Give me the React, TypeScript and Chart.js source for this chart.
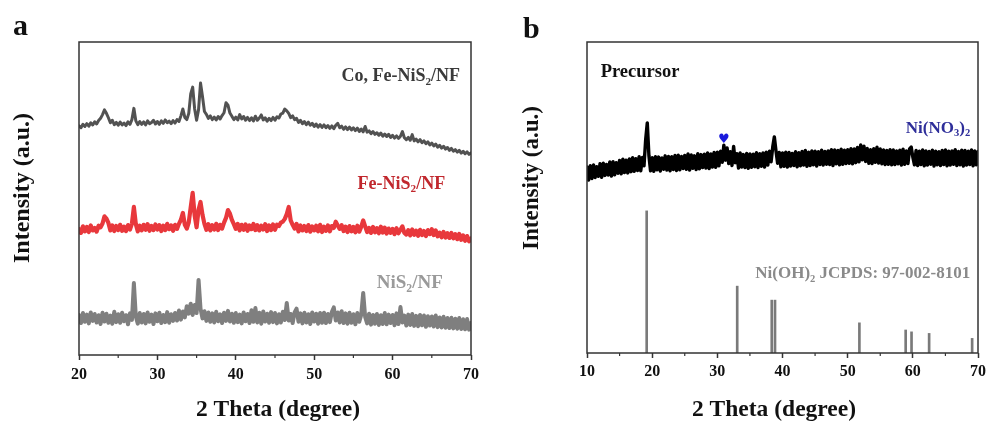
import React, { useEffect, useRef } from 'react';
import { Chart, registerables } from 'chart.js';

Chart.register(...registerables);

// ---------- DATA ----------
const STEP = 0.25;
const A_START = 20;
const B_START = 10;

// Panel a, Co, Fe-NiS2/NF (20°–70°, every 0.25°)
const coFeNiS2 = [
  73.2, 72.6, 73.7, 73.0,
  73.9, 73.1, 74.2, 73.5,
  74.5, 73.8, 74.9, 75.6,
  76.8, 78.3, 77.2, 75.8,
  74.2, 75.0, 73.6, 74.3,
  73.4, 74.4, 73.5, 74.1,
  73.3, 74.5, 73.7, 75.2,
  78.8, 74.8, 73.6, 74.6,
  73.7, 74.5, 73.5, 74.8,
  73.9, 74.3, 75.0, 73.8,
  74.6, 73.7, 74.8, 74.0,
  75.1, 74.2, 74.7, 73.9,
  74.9, 74.1, 75.2, 74.6,
  76.4, 78.6, 75.9, 75.2,
  77.2, 83.4, 85.6, 78.6,
  75.0, 78.4, 86.9, 82.6,
  77.8, 76.9, 75.6, 76.4,
  75.2, 76.0, 75.1, 76.2,
  75.4, 76.5, 77.4, 80.6,
  79.8, 77.3, 76.3, 75.2,
  76.0, 75.1, 76.8, 75.4,
  76.2, 75.0, 75.9, 74.9,
  75.8, 74.8, 76.3, 75.0,
  75.7, 76.7, 75.1, 75.8,
  74.7, 75.6, 74.9, 75.9,
  75.0, 76.1, 75.7, 77.0,
  77.3, 78.6, 78.0, 77.2,
  75.8, 76.4, 75.2, 75.6,
  74.3, 75.0, 73.9, 74.6,
  73.6, 74.4, 73.4, 74.0,
  73.0, 73.8, 72.8, 73.6,
  72.7, 73.5, 72.6, 73.3,
  72.4, 73.2, 72.3, 73.4,
  74.0, 72.6, 73.1, 72.1,
  72.9, 72.0, 72.8, 71.9,
  72.6, 71.7, 72.5, 71.4,
  72.2, 71.3, 73.0, 71.2,
  71.6, 70.7, 71.4, 70.5,
  71.0, 70.2, 70.9, 69.9,
  70.6, 69.8, 70.5, 69.5,
  70.2, 69.3, 70.0, 69.2,
  69.9, 71.4, 69.4, 68.8,
  69.5, 68.6, 70.4, 68.4,
  69.0, 68.1, 68.8, 67.8,
  68.4, 67.5, 68.1, 67.1,
  67.7, 66.8, 67.4, 66.4,
  67.0, 66.1, 66.7, 65.8,
  66.3, 65.4, 66.0, 65.1,
  65.6, 64.8, 65.4, 64.5,
  65.1, 64.3, 64.9, 64.1,
  64.6,
];

// Panel a, Fe-NiS2/NF
const feNiS2 = [
  40.2, 39.0, 41.1, 39.5,
  40.9, 39.3, 41.4, 39.8,
  40.6, 39.4, 41.3, 40.8,
  42.0, 44.3, 43.6, 42.2,
  39.8, 41.4, 39.6, 41.2,
  39.9, 41.6, 39.7, 41.0,
  39.6, 41.5, 40.1, 42.0,
  47.3, 41.8, 39.5, 41.3,
  39.8, 41.6, 40.0, 41.8,
  39.7, 41.2, 39.9, 41.7,
  40.1, 41.5, 39.6, 41.3,
  39.9, 41.9, 40.2, 41.4,
  39.7, 41.6, 40.3, 41.9,
  43.2, 45.4, 41.6, 40.4,
  42.4, 47.2, 51.8, 44.6,
  40.8, 46.4, 48.9, 44.8,
  41.9, 40.0, 41.8, 39.8,
  41.5, 40.1, 41.9, 39.9,
  41.6, 40.4, 42.3, 43.8,
  46.3, 45.2, 43.2, 41.8,
  40.3, 41.9, 39.8, 41.6,
  40.0, 41.7, 39.7, 41.4,
  40.2, 41.9, 39.9, 41.5,
  39.8, 41.3, 40.1, 41.8,
  39.6, 41.4, 39.9, 41.7,
  40.0, 41.6, 41.2, 42.3,
  42.6, 43.5, 45.0, 47.3,
  43.0, 41.6, 40.4, 41.9,
  39.5, 41.4, 39.8, 41.2,
  39.6, 41.5, 39.4, 41.1,
  39.8, 41.3, 39.5, 41.6,
  39.3, 41.0, 39.7, 41.4,
  39.5, 41.2, 40.6, 42.6,
  41.4, 40.3, 41.5, 39.6,
  41.0, 39.3, 41.2, 39.5,
  40.9, 39.2, 41.3, 39.4,
  41.0, 43.0, 41.1, 39.3,
  40.6, 39.0, 40.9, 39.2,
  40.5, 38.9, 41.0, 39.1,
  40.7, 38.8, 40.4, 39.0,
  40.3, 38.6, 40.5, 38.9,
  40.0, 41.1, 39.0, 38.5,
  39.9, 38.2, 40.1, 38.4,
  39.7, 38.1, 40.0, 38.3,
  39.6, 38.0, 39.9, 38.6,
  40.2, 38.3, 39.8, 37.9,
  39.1, 37.6, 39.3, 37.5,
  38.9, 37.4, 39.0, 37.3,
  38.6, 37.0, 38.7, 36.8,
  38.2, 36.5, 38.0, 36.3,
  37.2,
];

// Panel a, NiS2/NF
const niS2 = [
  12.8, 10.2, 13.4, 10.6,
  12.9, 10.1, 13.6, 10.9,
  13.1, 10.4, 12.7, 9.9,
  13.5, 10.7, 13.2, 10.3,
  12.6, 10.0, 13.8, 10.5,
  13.0, 10.3, 13.5, 10.8,
  12.7, 9.8, 13.3, 11.2,
  23.0, 12.2, 10.0, 13.4,
  10.4, 13.1, 10.1, 13.6,
  10.6, 12.9, 9.9, 13.3,
  10.8, 13.5, 10.2, 12.8,
  10.5, 13.7, 10.3, 13.0,
  10.9, 13.4, 11.0, 14.2,
  11.3, 13.9, 12.0, 15.6,
  13.2, 16.4, 12.8, 16.0,
  13.4, 24.0, 14.8, 11.7,
  14.0, 10.9, 13.6, 10.6,
  13.3, 10.4, 13.8, 10.8,
  13.0, 10.2, 13.5, 10.9,
  14.1, 10.7, 13.2, 10.3,
  13.4, 10.5, 12.9, 10.1,
  13.6, 10.8, 13.1, 10.2,
  14.3, 10.6, 15.0, 10.4,
  13.5, 10.0, 13.9, 10.7,
  13.2, 10.3, 13.7, 10.5,
  13.4, 10.1, 13.0, 10.4,
  13.8, 11.2, 16.6, 11.0,
  13.1, 10.2, 13.6, 14.8,
  10.6, 13.3, 10.1, 13.5,
  10.4, 13.0, 9.9, 13.6,
  10.7, 13.2, 10.0, 13.4,
  10.3, 13.5, 10.2, 13.1,
  10.5, 13.7, 15.2, 11.0,
  13.6, 10.4, 14.0, 10.2,
  13.3, 10.0, 13.5, 10.3,
  13.0, 9.8, 13.4, 10.6,
  12.9, 19.8, 12.2, 10.1,
  13.2, 9.7, 12.8, 10.0,
  13.1, 9.6, 12.7, 9.9,
  13.4, 9.8, 12.9, 10.2,
  12.8, 9.5, 13.3, 9.9,
  15.3, 10.4, 12.6, 9.4,
  12.9, 9.6, 13.1, 9.3,
  12.5, 9.2, 12.8, 9.5,
  12.6, 9.0, 12.4, 9.4,
  12.3, 9.1, 12.6, 8.9,
  12.0, 8.8, 12.2, 8.7,
  11.8, 8.6, 11.9, 8.5,
  11.6, 8.4, 11.8, 8.3,
  11.4, 8.2, 11.5, 8.1,
  10.2,
];

// Panel b, precursor (10°–70°, every 0.25°)
const precursor = [
  59.8, 55.6, 60.2, 56.1,
  60.5, 56.4, 59.9, 56.8,
  60.9, 56.5, 61.0, 57.1,
  60.6, 57.2, 61.4, 56.9,
  61.5, 57.3, 61.2, 57.8,
  61.9, 57.6, 62.3, 58.0,
  62.0, 57.9, 62.4, 58.3,
  62.8, 58.4, 62.5, 58.7,
  63.1, 58.6, 62.9, 60.2,
  68.5, 74.0, 63.5, 58.6,
  62.8, 58.4, 63.1, 58.9,
  63.0, 58.5, 62.7, 59.1,
  63.4, 58.8, 63.2, 58.6,
  63.1, 59.0, 63.5, 58.7,
  63.6, 58.9, 63.2, 59.3,
  63.5, 59.1, 64.0, 58.8,
  63.7, 59.4, 63.4, 59.0,
  64.1, 59.2, 63.8, 59.6,
  63.9, 59.5, 64.3, 59.3,
  64.0, 59.8, 64.5, 59.7,
  64.6, 60.2, 64.9, 61.3,
  66.8, 62.0, 65.9, 60.9,
  64.7, 60.3, 66.4, 61.2,
  64.1, 59.5, 64.3, 59.8,
  63.8, 59.6, 64.2, 59.4,
  64.0, 59.7, 63.9, 59.9,
  64.4, 59.6, 64.1, 60.0,
  64.3, 59.8, 64.6, 60.4,
  64.9, 61.5, 66.2, 69.5,
  65.0, 61.0, 64.5, 59.9,
  64.3, 60.0, 64.6, 59.8,
  64.5, 60.1, 64.2, 60.3,
  64.7, 59.9, 64.4, 60.2,
  64.8, 60.4, 65.1, 60.0,
  64.6, 60.3, 65.0, 60.5,
  64.9, 60.1, 64.7, 60.6,
  65.2, 60.4, 64.8, 60.7,
  65.0, 60.6, 65.4, 60.3,
  65.3, 60.8, 65.1, 60.5,
  65.5, 60.7, 65.2, 60.9,
  65.4, 61.0, 65.7, 60.8,
  65.6, 61.2, 66.1, 61.5,
  66.9, 62.1, 66.5, 61.6,
  65.8, 61.0, 65.4, 60.9,
  65.7, 61.3, 66.2, 61.1,
  65.6, 60.8, 65.3, 60.6,
  65.1, 60.7, 65.4, 60.5,
  65.3, 60.6, 65.0, 60.8,
  65.2, 60.4, 65.5, 60.7,
  65.0, 60.9, 65.6, 66.2,
  63.0, 60.5, 65.1, 60.3,
  64.9, 60.6, 65.3, 60.2,
  65.0, 60.4, 64.8, 60.7,
  65.2, 60.1, 64.9, 60.5,
  64.7, 60.3, 65.1, 60.6,
  65.3, 60.2, 64.9, 60.4,
  65.0, 60.7, 65.4, 60.3,
  64.8, 60.5, 65.2, 60.1,
  65.1, 60.4, 64.9, 60.6,
  65.3, 60.2, 65.0, 60.5,
  64.8,
];

// Ni(OH)2 reference pattern (JCPDS 97-002-8101)
const refTheta = [19.16, 33.05, 38.35, 38.85, 51.8, 58.9, 59.8, 62.5, 69.1];
const refIntensity = [45.7, 21.5, 17.0, 17.0, 9.7, 7.4, 6.8, 6.3, 4.7];

const minorTicksA = [25, 35, 45, 55, 65];
const minorTicksB = [15, 25, 35, 45, 55, 65];

// ---------- STYLE HELPERS ----------
const SERIF = '"Liberation Serif", "Times New Roman", serif';

type Part = { t: string; sub?: boolean };
type Label = {
  parts: Part[]; x: number; y: number; color: string; size: number;
  align: 'left' | 'right' | 'center'; family?: string;
};

const toPoints = (start: number, values: number[]) =>
  values.map((y, i) => ({ x: start + i * STEP, y }));

function drawRich(ctx: CanvasRenderingContext2D, lab: Label, px: number, py: number) {
  const fam = lab.family || SERIF;
  const fontFor = (p: Part) => `bold ${p.sub ? lab.size * 0.62 : lab.size}px ${fam}`;
  const widths = lab.parts.map((p) => { ctx.font = fontFor(p); return ctx.measureText(p.t).width; });
  const total = widths.reduce((a, b) => a + b, 0);
  let cx = lab.align === 'right' ? px - total : lab.align === 'center' ? px - total / 2 : px;
  ctx.fillStyle = lab.color;
  ctx.textAlign = 'left';
  ctx.textBaseline = 'middle';
  lab.parts.forEach((p, i) => {
    ctx.font = fontFor(p);
    ctx.fillText(p.t, cx, p.sub ? py + lab.size * 0.3 : py);
    cx += widths[i];
  });
}

const decorPlugin = {
  id: 'decor',
  afterDraw(chart: any, _args: any, opts: any) {
    const { ctx, chartArea } = chart;
    const { left, right, top, bottom } = chartArea;
    const xs = chart.scales.x;
    const ys = chart.scales.y;
    ctx.save();
    ctx.strokeStyle = '#333';
    ctx.lineWidth = 1.5;
    ctx.strokeRect(left, top, right - left, bottom - top);
    ctx.lineWidth = 1.2;
    (opts.minor || []).forEach((v: number) => {
      const px = xs.getPixelForValue(v);
      ctx.beginPath();
      ctx.moveTo(px, bottom);
      ctx.lineTo(px, bottom + 3);
      ctx.stroke();
    });
    (opts.labels || []).forEach((lab: Label) => {
      drawRich(ctx, lab, xs.getPixelForValue(lab.x), ys.getPixelForValue(lab.y));
    });
    // axis titles
    ctx.fillStyle = '#111';
    ctx.textAlign = 'center';
    ctx.textBaseline = 'middle';
    ctx.font = `bold ${opts.xTitle.size}px ${SERIF}`;
    ctx.fillText(opts.xTitle.text, opts.xTitle.cx, opts.xTitle.cy);
    ctx.save();
    ctx.translate(opts.yTitle.cx, opts.yTitle.cy);
    ctx.rotate(-Math.PI / 2);
    ctx.font = `bold ${opts.yTitle.size}px ${SERIF}`;
    ctx.fillText(opts.yTitle.text, 0, 0);
    ctx.restore();
    // panel letter
    ctx.textAlign = 'left';
    ctx.textBaseline = 'alphabetic';
    ctx.font = `bold ${opts.letter.size}px ${SERIF}`;
    ctx.fillText(opts.letter.text, opts.letter.x, opts.letter.y);
    ctx.restore();
  },
};

function xScale(min: number, max: number, tickPad: number, height: number) {
  return {
    type: 'linear',
    min,
    max,
    offset: false,
    ticks: {
      stepSize: 10, autoSkip: false, maxRotation: 0, padding: tickPad, color: '#111',
      font: { family: SERIF, size: 16, weight: 'bold' },
    },
    grid: {
      display: true, drawOnChartArea: false, drawTicks: true, tickLength: 5,
      tickWidth: 1.5, tickColor: '#333', offset: false,
    },
    border: { display: false },
    afterFit: (s: any) => { s.height = height; },
  };
}

const lineDs = (label: string, start: number, values: number[], color: string, width: number) => ({
  type: 'line',
  label,
  data: toPoints(start, values),
  borderColor: color,
  backgroundColor: color,
  borderWidth: width,
  borderJoinStyle: 'round',
  borderCapStyle: 'round',
  pointRadius: 0,
  tension: 0,
  fill: false,
});

export default function App() {
  const refA = useRef<HTMLCanvasElement>(null);
  const refB = useRef<HTMLCanvasElement>(null);

  useEffect(() => {
    const chartA = new Chart(refA.current as HTMLCanvasElement, {
      type: 'line',
      data: {
        datasets: [
          lineDs('Co, Fe-NiS2/NF', A_START, coFeNiS2, '#525252', 3.0),
          lineDs('Fe-NiS2/NF', A_START, feNiS2, '#e8383c', 4.2),
          lineDs('NiS2/NF', A_START, niS2, '#7f7f7f', 4.0),
        ] as any,
      },
      options: {
        animation: false,
        responsive: false,
        devicePixelRatio: 1,
        layout: { padding: { left: 79, right: 24, top: 42, bottom: 0 } },
        plugins: {
          legend: { display: false },
          tooltip: { enabled: false },
          decor: {
            minor: minorTicksA,
            labels: [
              { parts: [{ t: 'Co, Fe-NiS' }, { t: '2', sub: true }, { t: '/NF' }], x: 68.6, y: 89.0, color: '#3a3a3a', size: 18, align: 'right' },
              { parts: [{ t: 'Fe-NiS' }, { t: '2', sub: true }, { t: '/NF' }], x: 66.7, y: 54.6, color: '#c1272d', size: 18, align: 'right' },
              { parts: [{ t: 'NiS' }, { t: '2', sub: true }, { t: '/NF' }], x: 66.4, y: 23.0, color: '#9a9a9a', size: 19, align: 'right' },
            ],
            xTitle: { text: '2 Theta (degree)', cx: 278, cy: 410, size: 23.5 },
            yTitle: { text: 'Intensity (a.u.)', cx: 23, cy: 188, size: 24 },
            letter: { text: 'a', x: 13, y: 35, size: 30 },
          },
        } as any,
        scales: {
          x: xScale(20, 70, 5, 68) as any,
          y: { display: false, min: 0, max: 100 },
        },
      },
      plugins: [decorPlugin],
    });

    const chartB = new Chart(refB.current as HTMLCanvasElement, {
      type: 'line',
      data: {
        datasets: [
          lineDs('Precursor', B_START, precursor, '#000000', 3.4),
          {
            type: 'bar',
            label: 'Ni(OH)2 JCPDS: 97-002-8101',
            data: refTheta.map((x, i) => ({ x, y: refIntensity[i] })),
            backgroundColor: '#7a7a7a',
            borderWidth: 0,
            barThickness: 2,
            grouped: false,
          },
        ] as any,
      },
      options: {
        animation: false,
        responsive: false,
        devicePixelRatio: 1,
        layout: { padding: { left: 92, right: 10, top: 42, bottom: 0 } },
        plugins: {
          legend: { display: false },
          tooltip: { enabled: false },
          decor: {
            minor: minorTicksB,
            labels: [
              { parts: [{ t: 'Precursor' }], x: 12.1, y: 90.4, color: '#111111', size: 18.5, align: 'left' },
              { parts: [{ t: 'Ni(NO' }, { t: '3', sub: true }, { t: ')' }, { t: '2', sub: true }], x: 68.8, y: 72.3, color: '#2e2e9a', size: 17, align: 'right' },
              { parts: [{ t: 'Ni(OH)' }, { t: '2', sub: true }, { t: ' JCPDS: 97-002-8101' }], x: 68.8, y: 25.4, color: '#8a8a8a', size: 17, align: 'right' },
              { parts: [{ t: '\u2665' }], x: 31.0, y: 68.6, color: '#1a1adc', size: 13, align: 'center', family: '"DejaVu Sans", sans-serif' },
            ],
            xTitle: { text: '2 Theta (degree)', cx: 279, cy: 410, size: 23.5 },
            yTitle: { text: 'Intensity (a.u.)', cx: 37, cy: 178, size: 23 },
            letter: { text: 'b', x: 28, y: 38, size: 30 },
          },
        } as any,
        scales: {
          x: xScale(10, 70, 4, 70) as any,
          y: { display: false, min: 0, max: 100 },
        },
      },
      plugins: [decorPlugin],
    });

    return () => {
      chartA.destroy();
      chartB.destroy();
    };
  }, []);

  return (
    <div style={{ position: 'fixed', left: 0, top: 0, width: 990, height: 423, background: '#fff' }}>
      <canvas ref={refA} width={495} height={423}
        style={{ position: 'absolute', left: 0, top: 0, width: 495, height: 423 }} />
      <canvas ref={refB} width={495} height={423}
        style={{ position: 'absolute', left: 495, top: 0, width: 495, height: 423 }} />
    </div>
  );
}
